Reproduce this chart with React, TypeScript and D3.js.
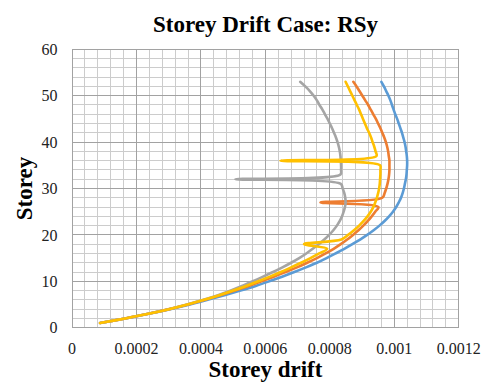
import React from "react";
import * as d3 from "d3";

// storey numbers (y values) shared by every series
const storeys = [
  1, 2, 3, 4, 5, 6, 7, 8, 9, 10, 11, 12, 13, 14, 15, 16, 17, 18, 19, 20, 21, 22, 23, 24, 25, 26, 27,
  28, 29, 30, 31, 32, 33, 34, 35, 36, 37, 38, 39, 40, 41, 42, 43, 44, 45, 46, 47, 48, 49, 50, 51, 52, 53,
];

// storey drift, one value per storey
const driftBlue = [
  0.000087, 0.000165, 0.000238, 0.000305, 0.000366, 0.000421, 0.000473, 0.000523, 0.00057, 0.000612,
  0.000652, 0.00069, 0.000726, 0.00076, 0.00079, 0.000818, 0.000845, 0.00087, 0.000894, 0.000916,
  0.000936, 0.000954, 0.00097, 0.000984, 0.000996, 0.001006, 0.001014, 0.001021, 0.001026, 0.00103,
  0.001033, 0.001036, 0.001038, 0.001039, 0.00104, 0.00104, 0.001039, 0.001037, 0.001035, 0.001032,
  0.001028, 0.001024, 0.001019, 0.001014, 0.001009, 0.001003, 0.000998, 0.000993, 0.000988, 0.000982,
  0.000975, 0.000968, 0.00096,
];
const driftOrange = [
  0.000087, 0.000165, 0.000237, 0.000302, 0.00036, 0.000413, 0.00046, 0.000505, 0.000548, 0.000588,
  0.000626, 0.000663, 0.000698, 0.00073, 0.00076, 0.000787, 0.000812, 0.000834, 0.000854, 0.000872,
  0.000889, 0.000904, 0.000918, 0.00093, 0.000941, 0.000951, 0.000771, 0.000963, 0.00097, 0.000975,
  0.000979, 0.000982, 0.000984, 0.000985, 0.000985, 0.000985, 0.000983, 0.000981, 0.000978, 0.000974,
  0.000969, 0.000963, 0.000957, 0.00095, 0.000943, 0.000935, 0.000927, 0.000919, 0.00091, 0.000901,
  0.000892, 0.000883, 0.000873,
];
const driftGray = [
  0.000087, 0.000165, 0.000236, 0.0003, 0.000357, 0.000408, 0.000453, 0.000493, 0.000527, 0.000561,
  0.000593, 0.000624, 0.000653, 0.00068, 0.000705, 0.000727, 0.000747, 0.000766, 0.000783, 0.000798,
  0.000811, 0.000822, 0.000831, 0.000838, 0.000843, 0.000847, 0.000849, 0.000848, 0.000845, 0.00084,
  0.000834, 0.000507, 0.000833, 0.000835, 0.000835, 0.000834, 0.000833, 0.000831, 0.000828, 0.000824,
  0.000819, 0.000813, 0.000807, 0.0008, 0.000793, 0.000785, 0.000777, 0.000768, 0.00076, 0.00075,
  0.000738, 0.000724, 0.000708,
];
const driftYellow = [
  0.000087, 0.000165, 0.000237, 0.000301, 0.000358, 0.00041, 0.000457, 0.0005, 0.00054, 0.000578,
  0.000614, 0.000648, 0.00068, 0.000711, 0.00074, 0.000767, 0.000792, 0.00072, 0.000836, 0.000857,
  0.000875, 0.000891, 0.000905, 0.000917, 0.000927, 0.000935, 0.000941, 0.000946, 0.00095, 0.000953,
  0.000955, 0.000956, 0.000957, 0.000957, 0.000956, 0.000647, 0.000945, 0.000942, 0.000938, 0.000933,
  0.000928, 0.000922, 0.000915, 0.000909, 0.000903, 0.000897, 0.000891, 0.000884, 0.000877, 0.00087,
  0.000863, 0.000856, 0.000849,
];

const xTicks = [0, 0.0002, 0.0004, 0.0006, 0.0008, 0.001, 0.0012];
const yTicks = [0, 10, 20, 30, 40, 50, 60];

const series = [
  { name: "blue", color: "#5B9BD5", values: driftBlue },
  { name: "orange", color: "#ED7D31", values: driftOrange },
  { name: "gray", color: "#A5A5A5", values: driftGray },
  { name: "yellow", color: "#FFC000", values: driftYellow },
];

const W = 488;
const H = 388;
const font = "'Liberation Serif', 'Times New Roman', serif";

export default function App() {
  const x = d3.scaleLinear().domain([0, 0.0012]).range([72, 458.7]);
  const y = d3.scaleLinear().domain([0, 60]).range([327.7, 49.3]);

  // minor grid every 1/5 of a major step
  const minorX = d3.range(0, 31).map((i) => (i * 0.0012) / 30);
  const minorY = d3.range(0, 31).map((i) => i * 2);

  const line = d3
    .line<number>()
    .x((d) => x(d))
    .y((_, i) => y(storeys[i]))
    .curve(d3.curveCatmullRom.alpha(0.5));

  return (
    <svg
      width={W}
      height={H}
      style={{ position: "absolute", left: 0, top: 0, background: "#fff" }}
      fontFamily={font}
    >
      <g shapeRendering="crispEdges">
        {minorX.map((t, i) => (
          <line key={"mx" + i} x1={x(t)} x2={x(t)} y1={y(0)} y2={y(60)} stroke="#cccccc" />
        ))}
        {minorY.map((t, i) => (
          <line key={"my" + i} x1={x(0)} x2={x(0.0012)} y1={y(t)} y2={y(t)} stroke="#cccccc" />
        ))}
        {xTicks.map((t) => (
          <line key={"Mx" + t} x1={x(t)} x2={x(t)} y1={y(0)} y2={y(60)} stroke="#a2a2a2" />
        ))}
        {yTicks.map((t) => (
          <line key={"My" + t} x1={x(0)} x2={x(0.0012)} y1={y(t)} y2={y(t)} stroke="#a2a2a2" />
        ))}
      </g>

      {series.map((s) => (
        <path
          key={s.name}
          d={line(s.values) || ""}
          fill="none"
          stroke={s.color}
          strokeWidth={2.6}
          strokeLinejoin="round"
          strokeLinecap="round"
        />
      ))}

      {yTicks.map((t) => (
        <text key={"yl" + t} x={57.5} y={y(t)} dy="0.35em" textAnchor="end" fontSize={16} fill="#222">
          {t}
        </text>
      ))}
      {xTicks.map((t) => (
        <text key={"xl" + t} x={x(t)} y={353.5} textAnchor="middle" fontSize={16} fill="#222">
          {String(t)}
        </text>
      ))}

      <text x={265.5} y={31.5} textAnchor="middle" fontSize={23} fontWeight="bold" fill="#000">
        Storey Drift Case: RSy
      </text>
      <text x={265.5} y={377} textAnchor="middle" fontSize={23} fontWeight="bold" fill="#000">
        Storey drift
      </text>
      <text
        transform={`translate(32,188.5) rotate(-90)`}
        textAnchor="middle"
        fontSize={23}
        fontWeight="bold"
        fill="#000"
      >
        Storey
      </text>
    </svg>
  );
}
